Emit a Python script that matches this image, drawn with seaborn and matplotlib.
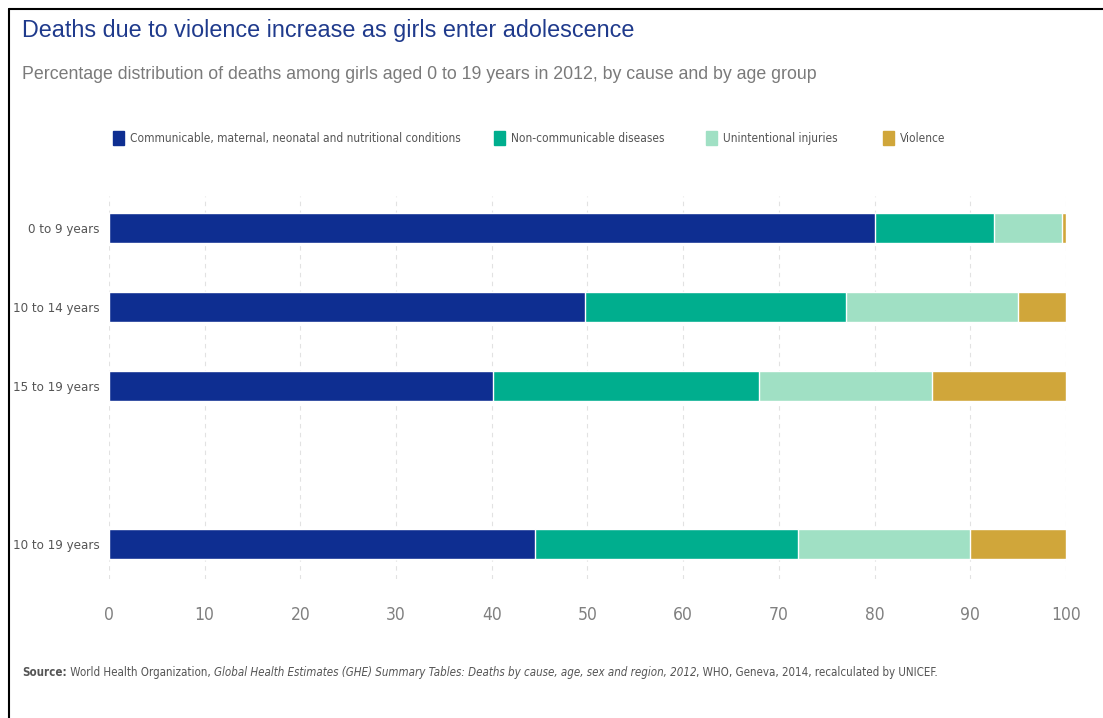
import matplotlib
matplotlib.use("Agg")
import matplotlib.pyplot as plt
import matplotlib.patches as mpatches
from matplotlib.lines import Line2D
import seaborn as sns
import pandas as pd
import numpy as np

# ---- data ----
age_groups = ["0 to 9 years", "10 to 14 years", "15 to 19 years", "10 to 19 years"]
communicable = [80.0, 49.7, 40.1, 44.5]
non_communicable = [12.5, 27.3, 27.8, 27.5]
unintentional = [7.1, 18.0, 18.1, 18.0]
violence = [0.4, 5.0, 14.0, 10.0]
causes = ["Communicable, maternal, neonatal and nutritional conditions",
          "Non-communicable diseases", "Unintentional injuries", "Violence"]
colors = ["#0E2E91", "#00AE8E", "#A0E0C4", "#D0A63A"]
x_ticks = [0, 10, 20, 30, 40, 50, 60, 70, 80, 90, 100]

sns.set_theme(style="white")
plt.rcParams["font.family"] = ["Liberation Sans", "DejaVu Sans"]
NARROW = dict(family="DejaVu Sans", stretch="condensed")

fig = plt.figure(figsize=(11.03, 7.18), dpi=100)
ax = fig.add_axes([0.0988, 0.1929, 0.8676, 0.5336])

order = ["0 to 9 years", "10 to 14 years", "15 to 19 years", " ", "10 to 19 years"]
series = [communicable, non_communicable, unintentional, violence]
cum = np.cumsum(np.array(series), axis=0)
df = pd.DataFrame({"age": age_groups})
for i in range(len(series) - 1, -1, -1):
    d = df.copy()
    d["val"] = cum[i]
    sns.barplot(data=d, y="age", x="val", order=order, orient="h",
                color=colors[i], saturation=1, width=0.38, ax=ax, zorder=3)

ax.set_xlim(0, 100)
ax.set_ylim(4.45, -0.4)
ax.set_xticks(x_ticks)
ax.set_xticklabels([str(t) for t in x_ticks], fontsize=12.5, color="#808080", **NARROW)
for lab in ax.get_yticklabels():
    lab.set_family("DejaVu Sans")
    lab.set_stretch("condensed")
    lab.set_fontsize(9.5)
    lab.set_color("#555555")
ax.tick_params(axis="x", length=0, pad=19)
ax.tick_params(axis="y", length=0, pad=7)
ax.set_xlabel("")
ax.set_ylabel("")
for s in ax.spines.values():
    s.set_visible(False)
ax.grid(False)
for t in x_ticks:
    ax.axvline(t, color="#E2E2E2", lw=0.8, ls=(0, (4, 4)), zorder=0)

fig.canvas.draw()
renderer = fig.canvas.get_renderer()
W = fig.bbox.width


def fit(textobj, target_px):
    bb = textobj.get_window_extent(renderer=renderer)
    textobj.set_fontsize(textobj.get_fontsize() * target_px / bb.width)


# legend: one entry per item, squares at the reference positions
LEG_FS = 8.6
legend_px = [113, 494, 706, 883]
for c, l, px in zip(colors, causes, legend_px):
    leg = fig.legend(handles=[mpatches.Patch(color=c, label=l)], loc="center left",
                     bbox_to_anchor=(px / W, 0.808), frameon=False,
                     handlelength=0.95, handleheight=1.4, handletextpad=0.45,
                     borderpad=0, borderaxespad=0,
                     prop={"family": "DejaVu Sans", "stretch": "condensed", "size": LEG_FS})
    for t in leg.get_texts():
        t.set_color("#555555")

# titles
title = fig.text(0.02, 0.958, "Deaths due to violence increase as girls enter adolescence",
                 fontsize=16.5, color="#1F3A8C", va="center", ha="left")
fit(title, 612)
sub = fig.text(0.02, 0.896, "Percentage distribution of deaths among girls aged 0 to 19 years in 2012, by cause and by age group",
               fontsize=12, color="#7A7A7A", va="center", ha="left")
fit(sub, 796)

# source line with mixed styles
pieces = [("Source:", "bold", "normal"),
          (" World Health Organization, ", "normal", "normal"),
          ("Global Health Estimates (GHE) Summary Tables: Deaths by cause, age, sex and region, 2012", "normal", "italic"),
          (", WHO, Geneva, 2014, recalculated by UNICEF.", "normal", "normal")]
texts = []
for txt, w, st in pieces:
    texts.append(fig.text(0, 0.064, txt, fontsize=10, color="#555555", weight=w, style=st,
                          va="center", ha="left", **NARROW))
total = sum(t.get_window_extent(renderer=renderer).width for t in texts)
scale = 918 / total
x = 0.02
for t in texts:
    t.set_fontsize(10 * scale)
    t.set_x(x)
    x += t.get_window_extent(renderer=renderer).width / W

# frame lines (top and left)
fig.add_artist(Line2D([0.008, 1.0], [0.987, 0.987], color="black", lw=1.5, transform=fig.transFigure))
fig.add_artist(Line2D([0.0085, 0.0085], [0.0, 0.987], color="black", lw=1.5, transform=fig.transFigure))

fig.savefig("out.png", dpi=100)
